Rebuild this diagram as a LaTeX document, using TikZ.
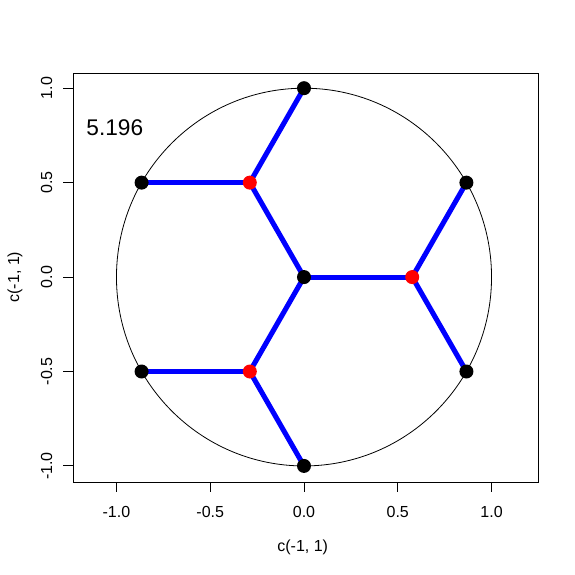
\documentclass[tikz,border=0pt]{standalone}
\usepackage{fontspec}
\setmainfont{Liberation Sans}
\usetikzlibrary{backgrounds}

\begin{document}
\begin{tikzpicture}[
				x=140.6pt, y=141.6pt,
				dot/.style={circle, inner sep=0pt, minimum size=10.5pt},
				blackdot/.style={dot, fill=black},
				reddot/.style={dot, fill=red},
				edge/.style={blue, line width=3.8pt},
				tickline/.style={line width=0.75pt},
				ticklabel/.style={font=\fontsize{12}{14}\selectfont, inner sep=0pt}
				]
				\useasboundingbox (-1.621,-1.573) rectangle (1.445,1.467);
				% frame and unit circle
				\draw[line width=0.75pt] (-1.230,-1.085) rectangle (1.248,1.080);
				\draw[line width=0.6pt] (0,0) circle (1);
				% x axis
				\foreach \v/\t in {-1/-1.0,-0.5/-0.5,0/0.0,0.5/0.5,1/1.0} {
					\draw[tickline] (\v,-1.085) -- (\v,-1.138);
					\node[ticklabel] (xt\v) at (\v,-1.245) {\t};
				}
				% y axis
				\foreach \v/\t in {-1/-1.0,-0.5/-0.5,0/0.0,0.5/0.5,1/1.0} {
					\draw[tickline] (-1.230,\v) -- (-1.283,\v);
					\node[ticklabel, rotate=90] (yt\v) at (-1.372,\v) {\t};
				}
				\node[ticklabel] (xlab) at (-0.007,-1.430) {c(-1, 1)};
				\node[ticklabel, rotate=90] (ylab) at (-1.541,0) {c(-1, 1)};
				\node[font=\fontsize{17}{20}\selectfont, inner sep=0pt] (len) at (-1.009,0.789) {5.196};
				% tree
				\node[blackdot] (o) at (0,0) {};
				\node[reddot] (r1) at (0.577,0) {};
				\node[reddot] (r2) at (-0.289,0.5) {};
				\node[reddot] (r3) at (-0.289,-0.5) {};
				\node[blackdot] (t1) at (0.866,0.5) {};
				\node[blackdot] (t2) at (0.866,-0.5) {};
				\node[blackdot] (t3) at (0,1) {};
				\node[blackdot] (t4) at (-0.866,0.5) {};
				\node[blackdot] (t5) at (-0.866,-0.5) {};
				\node[blackdot] (t6) at (0,-1) {};
				\begin{scope}[on background layer]
					\draw[edge] (o.center) -- (r1.center);
					\draw[edge] (o.center) -- (r2.center);
					\draw[edge] (o.center) -- (r3.center);
					\draw[edge] (r1.center) -- (t1.center);
					\draw[edge] (r1.center) -- (t2.center);
					\draw[edge] (r2.center) -- (t3.center);
					\draw[edge] (r2.center) -- (t4.center);
					\draw[edge] (r3.center) -- (t5.center);
					\draw[edge] (r3.center) -- (t6.center);
				\end{scope}
			\end{tikzpicture}
\end{document}
